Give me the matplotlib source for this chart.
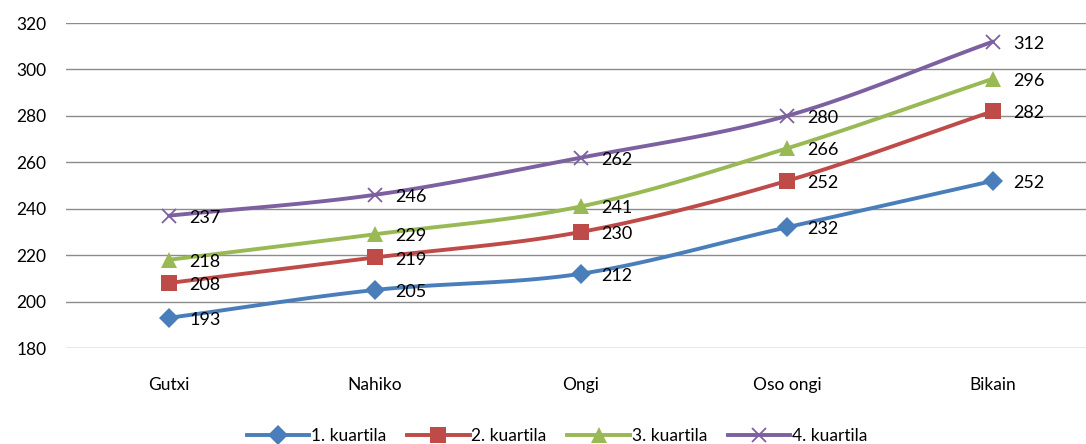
"""Line chart of test scores per quartile, Excel-like style."""

import numpy as np
import matplotlib
matplotlib.use("Agg")
import matplotlib.pyplot as plt
from matplotlib.lines import Line2D

categories = ["Gutxi", "Nahiko", "Ongi", "Oso ongi", "Bikain"]
series_names = ["1. kuartila", "2. kuartila", "3. kuartila", "4. kuartila"]
q1 = [193, 205, 212, 232, 252]
q2 = [208, 219, 230, 252, 282]
q3 = [218, 229, 241, 266, 296]
q4 = [237, 246, 262, 280, 312]
y_ticks = [180, 200, 220, 240, 260, 280, 300, 320]

colors = ["#4A7EBB", "#BE4B48", "#98B954", "#7D60A0"]
markers = ["D", "s", "^", "x"]
msizes = [10, 11, 11.5, 10.5]


def smooth(x, y, n=30):
    # Catmull-Rom through the points, like Excel's smoothed line
    x = np.asarray(x, float)
    y = np.asarray(y, float)
    px = np.concatenate([[2 * x[0] - x[1]], x, [2 * x[-1] - x[-2]]])
    py = np.concatenate([[2 * y[0] - y[1]], y, [2 * y[-1] - y[-2]]])
    xs, ys = [], []
    t = np.linspace(0, 1, n)
    for i in range(1, len(px) - 2):
        for arr, out in ((px, xs), (py, ys)):
            p0, p1, p2, p3 = arr[i - 1:i + 3]
            out.extend(0.5 * ((2 * p1) + (-p0 + p2) * t
                              + (2 * p0 - 5 * p1 + 4 * p2 - p3) * t ** 2
                              + (-p0 + 3 * p1 - 3 * p2 + p3) * t ** 3))
    return np.array(xs), np.array(ys)


plt.rcParams["font.family"] = ["Lato", "DejaVu Sans"]

fig = plt.figure(figsize=(10.86, 4.44), dpi=100)
ax = fig.add_axes([66 / 1086, 96 / 444, 1030 / 1086, 325 / 444])

x = np.arange(len(categories))
handles = []
for vals, name, c, m, ms in zip([q1, q2, q3, q4], series_names, colors, markers, msizes):
    mew = 1.3 if m == "x" else 0
    sx, sy = smooth(x, vals)
    ax.plot(sx, sy, color=c, lw=2.8, solid_capstyle="round", zorder=3)
    ax.plot(x, vals, ls="none", marker=m, ms=ms, color=c,
            markeredgewidth=mew, zorder=4)
    for xi, v in zip(x, vals):
        ax.annotate(str(v), (xi, v), xytext=(14.5, -1.5), textcoords="offset points",
                    ha="left", va="center", fontsize=13, color="black", zorder=5)
    handles.append(Line2D([], [], color=c, lw=2.8, marker=m, ms=ms,
                          markeredgewidth=mew))

ax.set_xlim(-0.5, len(categories) - 0.5)
ax.set_ylim(180, 320)
ax.set_yticks(y_ticks)
ax.set_xticks(x)
ax.set_xticklabels(categories)
ax.tick_params(axis="both", length=0, labelsize=12.5)
ax.tick_params(axis="x", pad=21)
ax.tick_params(axis="y", pad=14)
ax.grid(axis="y", color="#8C8C8C", lw=1)
ax.set_axisbelow(True)
for s in ax.spines.values():
    s.set_visible(False)

fig.legend(handles, series_names, loc="center", bbox_to_anchor=(0.513, 0.018),
           ncol=4, frameon=False, fontsize=12.5, handlelength=3.6,
           handletextpad=0.1, columnspacing=1.2)

fig.savefig("out.png", dpi=100)
